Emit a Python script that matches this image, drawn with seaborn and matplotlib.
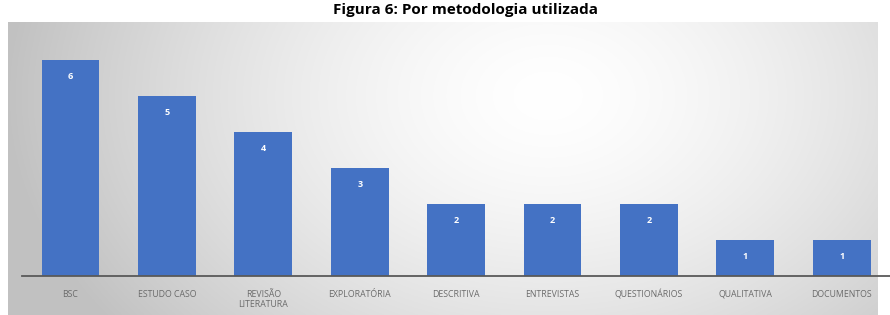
import numpy as np
import pandas as pd
import matplotlib
matplotlib.use("Agg")
import matplotlib.pyplot as plt
import seaborn as sns

categories = ["BSC", "ESTUDO CASO", "REVISÃO\nLITERATURA", "EXPLORATÓRIA", "DESCRITIVA",
              "ENTREVISTAS", "QUESTIONÁRIOS", "QUALITATIVA", "DOCUMENTOS"]
values = [6, 5, 4, 3, 2, 2, 2, 1, 1]
title = "Figura 6: Por metodologia utilizada"

sns.set_theme(style="white")
plt.rcParams['font.family'] = ['Open Sans', 'DejaVu Sans']

W, H = 890, 315
fig = plt.figure(figsize=(W / 100, H / 100), dpi=100)
fig.patch.set_facecolor("white")

# gradient background panel
bg = fig.add_axes([8 / W, 0, (878 - 8) / W, (H - 22) / H])
ny, nx = 200, 600
yy, xx = np.mgrid[0:ny, 0:nx]
cx, cy = 0.62 * nx, 0.25 * ny
d = np.sqrt(((xx - cx) / (0.62 * nx)) ** 2 + ((yy - cy) / (1.3 * ny)) ** 2)
d = np.clip(d, 0, 1)
shade = 1.0 - 0.24 * d ** 1.5
bg.imshow(np.dstack([shade, shade, shade]), aspect="auto", extent=[0, 1, 0, 1], origin="upper")
bg.set_axis_off()

ax = fig.add_axes([22.3 / W, (H - 276) / H, (W - 22.3) / W, 234 / H])
ax.patch.set_alpha(0)
df = pd.DataFrame({"cat": categories, "val": values})
sns.barplot(data=df, x="cat", y="val", color="#4472C4", saturation=1, width=0.6,
            edgecolor="none", linewidth=0, ax=ax)
ax.set_xlim(-0.5, 8.5)
ax.set_ylim(0, 6.5)
for i, v in enumerate(values):
    ax.text(i, v - 0.45, str(v), ha="center", va="center", color="white", fontsize=6.5, fontweight="bold")
ax.set_xlabel("")
ax.set_ylabel("")
ax.set_yticks([])
ax.tick_params(axis="x", length=0, pad=10, labelsize=6.3, labelcolor="#6b6b6b")
for s in ["top", "right", "left"]:
    ax.spines[s].set_visible(False)
ax.spines["bottom"].set_color("#595959")
ax.spines["bottom"].set_linewidth(1.3)

fig.text(465 / W, 1 - 14 / H, title, ha="center", va="baseline", fontsize=11, fontweight="bold", color="black")

fig.savefig("out.png", dpi=100)
